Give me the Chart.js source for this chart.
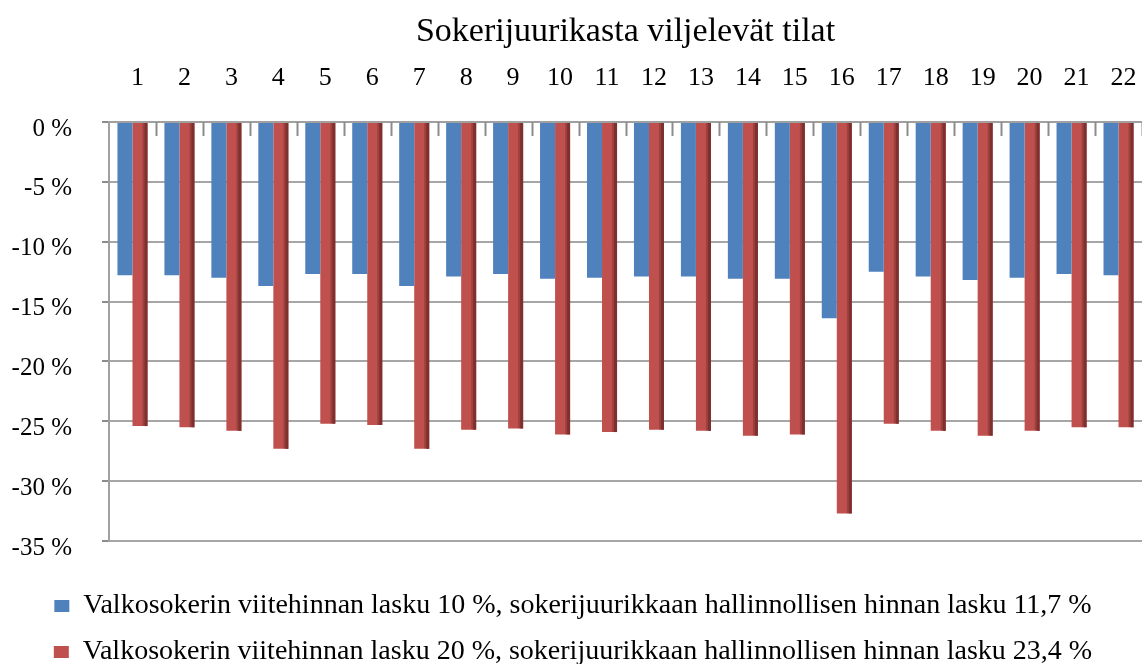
<!DOCTYPE html>
<html>
<head>
<meta charset="utf-8">
<script src="https://cdn.jsdelivr.net/npm/chart.js@4.4.1/dist/chart.umd.min.js"></script>
<style>
  html, body { margin: 0; padding: 0; background: #ffffff; }
  #wrap { width: 1142px; height: 664px; }
</style>
</head>
<body>
<div id="wrap"><canvas id="c" width="1142" height="664"></canvas></div>
<script>
const chartTitle = 'Sokerijuurikasta viljelevät tilat';
const categories = ['1','2','3','4','5','6','7','8','9','10','11','12','13','14','15','16','17','18','19','20','21','22'];
const seriesNames = [
  'Valkosokerin viitehinnan lasku 10 %, sokerijuurikkaan hallinnollisen hinnan lasku 11,7 %',
  'Valkosokerin viitehinnan lasku 20 %, sokerijuurikkaan hallinnollisen hinnan lasku 23,4 %'
];
const blueValues = [-12.8,-12.8,-13.0,-13.7,-12.7,-12.7,-13.7,-12.9,-12.7,-13.1,-13.0,-12.9,-12.9,-13.1,-13.1,-16.4,-12.5,-12.9,-13.2,-13.0,-12.7,-12.8];
const redValues  = [-25.4,-25.5,-25.8,-27.3,-25.2,-25.3,-27.3,-25.7,-25.6,-26.1,-25.9,-25.7,-25.8,-26.2,-26.1,-32.7,-25.2,-25.8,-26.2,-25.8,-25.5,-25.5];
const yMin = -35, yMax = 0, yStep = 5;

const FONT = 'Liberation Serif, Times New Roman, serif';

const topTicksPlugin = {
  id: 'topTicks',
  afterDraw(chart) {
    const xs = chart.scales.x, ca = chart.chartArea, ctx = chart.ctx;
    const n = categories.length, w = (xs.right - xs.left) / n;
    ctx.save();
    ctx.strokeStyle = '#8c8c8c';
    ctx.lineWidth = 2;
    for (let i = 1; i <= n; i++) {
      const x = Math.round(xs.left + i * w) + 0.5;
      ctx.beginPath();
      ctx.moveTo(x, ca.top);
      ctx.lineTo(x, ca.top + 14);
      ctx.stroke();
    }
    ctx.restore();
  }
};

const barSidePlugin = {
  id: 'barSide',
  afterDatasetsDraw(chart) {
    const ctx = chart.ctx;
    ctx.save();
    const meta = chart.getDatasetMeta(1);
    meta.data.forEach(el => {
      const p = el.getProps(['x','y','base','width'], true);
      ctx.fillStyle = '#7e302e';
      ctx.fillRect(p.x + p.width / 2 - 3, p.base, 3, p.y - p.base);
      ctx.fillStyle = 'rgba(0,0,0,0.18)';
      ctx.fillRect(p.x + p.width / 2 - 5, p.base, 2, p.y - p.base);
    });
    ctx.restore();
  }
};

new Chart(document.getElementById('c'), {
  type: 'bar',
  data: {
    labels: categories,
    datasets: [
      { label: seriesNames[0], data: blueValues, backgroundColor: '#4f81bd', borderWidth: 0,
        categoryPercentage: 0.64, barPercentage: 1.0 },
      { label: seriesNames[1], data: redValues, backgroundColor: '#c0504d', borderWidth: 0,
        categoryPercentage: 0.64, barPercentage: 1.0 }
    ]
  },
  options: {
    responsive: false,
    animation: false,
    devicePixelRatio: 1,
    layout: { autoPadding: false, padding: { left: 0, right: -4, top: 0, bottom: -12 } },
    plugins: {
      title: {
        display: true, text: chartTitle, color: '#000', fullSize: false,
        font: { family: FONT, size: 34, weight: 'normal' },
        padding: { top: 11.6, bottom: 0 }
      },
      legend: {
        display: true, position: 'bottom', align: 'center',
        labels: {
          color: '#000', boxWidth: 15, boxHeight: 12, padding: 18,
          font: { family: FONT, size: 28 }
        }
      },
      tooltip: { enabled: false }
    },
    scales: {
      x: {
        type: 'category', position: 'top',
        grid: { display: true, drawOnChartArea: false, drawTicks: false },
        border: { display: true, color: '#a0a0a0', width: 2 },
        ticks: { color: '#000', padding: 28.4, maxRotation: 0, autoSkip: false, labelOffset: 5,
                 font: { family: FONT, size: 26 } },
        afterFit(axis) { axis.height = 122 - 52.4; axis.paddingLeft = 0; axis.paddingRight = 0; }
      },
      x2: {
        type: 'category', position: 'bottom', display: true,
        grid: { display: false }, border: { display: false },
        ticks: { display: false },
        afterFit(axis) { axis.height = 33; axis.paddingLeft = 0; axis.paddingRight = 0; }
      },
      y: {
        min: yMin, max: yMax,
        grid: { color: '#a6a6a6', lineWidth: 2, tickLength: 7, tickColor: '#8c8c8c' },
        border: { display: true, color: '#a0a0a0', width: 2 },
        ticks: { stepSize: yStep, color: '#000', padding: 30, labelOffset: 7,
                 font: { family: FONT, size: 25 },
                 callback: v => v + ' %' },
        afterFit(axis) { axis.width = 109; axis.paddingTop = 0; axis.paddingBottom = 0; }
      }
    }
  },
  plugins: [topTicksPlugin, barSidePlugin]
});
</script>
</body>
</html>
